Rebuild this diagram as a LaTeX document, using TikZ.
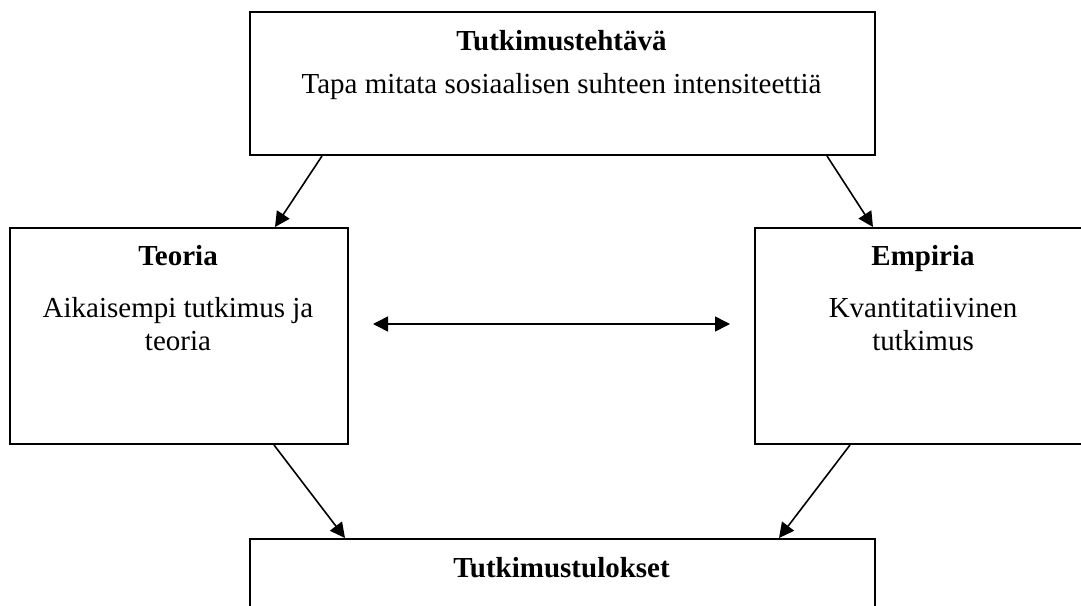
\documentclass[tikz,border=0pt]{standalone}
\usepackage{fontspec}
\setmainfont{Liberation Serif}
\usetikzlibrary{arrows.meta}
\begin{document}
\begin{tikzpicture}[x=0.5pt,y=-0.5pt,
  box/.style={draw,line width=1pt,rectangle,inner sep=0pt,anchor=north west},
  ttl/.style={anchor=base,font=\fontsize{14.5}{16}\selectfont\bfseries,inner sep=0pt},
  txt/.style={anchor=base,font=\fontsize{14.5}{16}\selectfont,inner sep=0pt},
  tip/.style={Triangle[length=7.5pt,width=7.5pt]},
  arr/.style={line width=0.8pt,-{Triangle[length=7.5pt,width=7.5pt]}},
  darr/.style={line width=0.8pt,{Triangle[length=7.5pt,width=7.5pt]}-{Triangle[length=7.5pt,width=7.5pt]}}]
\useasboundingbox (0,0) rectangle (1081,605);
\fill[white] (0,0) rectangle (1081,605);
\clip (0,0) rectangle (1081,605);
% boxes
\node[box,minimum width=312.5pt,minimum height=71.5pt] (top) at (249,11) {};
\node[box,minimum width=169pt,minimum height=108pt] (teoria) at (9,227) {};
\node[box,minimum width=169pt,minimum height=108pt] (empiria) at (754,227) {};
\node[box,minimum width=312.5pt,minimum height=100pt] (bottom) at (249,538) {};
% texts
\node[ttl] (topT) at (561.5,50) {Tutkimustehtävä};
\node[txt] (topD) at (561.5,93) {Tapa mitata sosiaalisen suhteen intensiteettiä};
\node[ttl] (teoT) at (178,265) {Teoria};
\node[txt] (teoD1) at (178,317) {Aikaisempi tutkimus ja};
\node[txt] (teoD2) at (178,350) {teoria};
\node[ttl] (empT) at (923,265) {Empiria};
\node[txt] (empD1) at (923,317) {Kvantitatiivinen};
\node[txt] (empD2) at (923,350) {tutkimus};
\node[ttl] (botT) at (561.5,577) {Tutkimustulokset};
% connectors
\draw[arr] ([xshift=36.5pt]top.south west) -- ([xshift=133pt]teoria.north west);
\draw[arr] ([xshift=289pt]top.south west) -- ([xshift=59.5pt]empiria.north west);
\draw[darr] ([shift={(12pt,6pt)}]teoria.east) -- ([shift={(-12pt,6pt)}]empiria.west);
\draw[arr] ([xshift=132.5pt]teoria.south west) -- ([xshift=48pt]bottom.north west);
\draw[arr] ([xshift=48pt]empiria.south west) -- ([xshift=265pt]bottom.north west);
\end{tikzpicture}
\end{document}
